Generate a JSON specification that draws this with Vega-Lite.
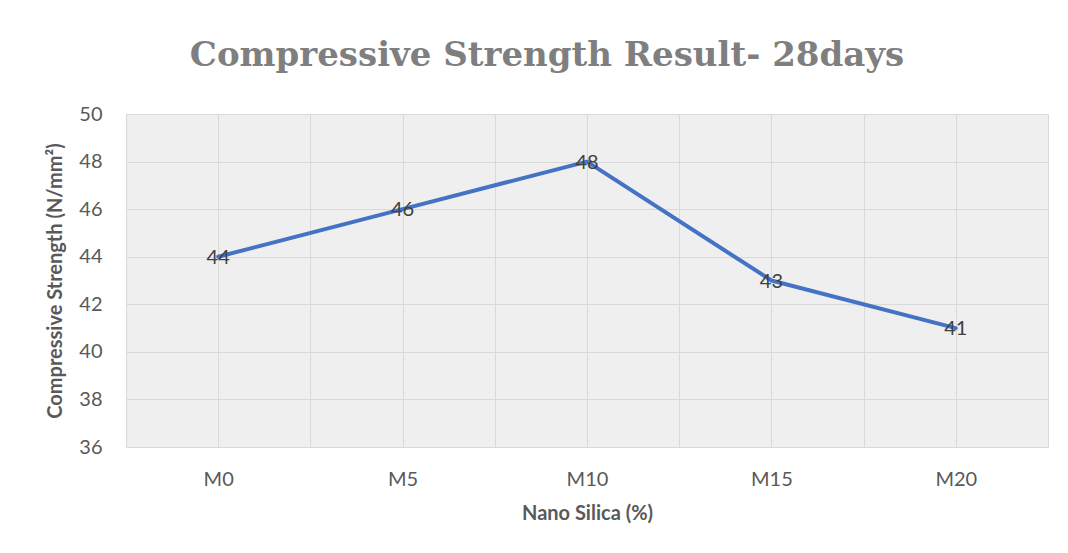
{
  "$schema": "https://vega.github.io/schema/vega-lite/v6.json",
  "width": 922,
  "height": 333,
  "autosize": "none",
  "padding": {"left": 126, "top": 114, "right": 20, "bottom": 106},
  "background": "white",
  "title": {
    "text": "Compressive Strength Result- 28days",
    "font": "DejaVu Serif",
    "fontSize": 34,
    "fontWeight": "bold",
    "color": "#7f7f7f",
    "anchor": "middle",
    "dx": -40,
    "offset": 31
  },
  "config": {
    "view": {"stroke": "#d9d9d9", "fill": "#efefef"},
    "axis": {"gridColor": "#d9d9d9", "gridWidth": 1}
  },
  "data": {
    "values": [
      {"mix": "M0", "strength": 44},
      {"mix": "M5", "strength": 46},
      {"mix": "M10", "strength": 48},
      {"mix": "M15", "strength": 43},
      {"mix": "M20", "strength": 41}
    ]
  },
  "layer": [
    {
      "mark": {"type": "point", "opacity": 0},
      "encoding": {
        "x": {
          "datum": 0,
          "type": "quantitative",
          "scale": {"domain": [0, 10], "nice": false, "zero": false},
          "axis": {"orient": "bottom", "values": [0, 1, 2, 3, 4, 5, 6, 7, 8, 9, 10], "grid": true, "labels": false, "ticks": false, "domain": false, "title": null}
        },
        "y": {
          "datum": 36,
          "type": "quantitative",
          "scale": {"domain": [36, 50], "nice": false, "zero": false}
        }
      }
    },
    {
      "layer": [
        {
          "mark": {"type": "line", "stroke": "#4472C4", "strokeWidth": 4, "strokeCap": "round", "strokeJoin": "round"},
          "encoding": {
            "x": {
              "field": "mix",
              "type": "nominal",
              "sort": null,
              "scale": {"type": "point", "padding": 0.5},
              "axis": {
                "orient": "bottom",
                "title": "Nano Silica (%)",
                "labelAngle": 0,
                "labelFont": "Lato",
                "labelFontSize": 20,
                "labelColor": "#595959",
                "labelPadding": 22,
                "ticks": false,
                "domain": false,
                "grid": false,
                "titleFont": "Lato",
                "titleFontSize": 20,
                "titleFontWeight": "bold",
                "titleColor": "#595959",
                "titlePadding": 14
              }
            },
            "y": {
              "field": "strength",
              "type": "quantitative",
              "scale": {"domain": [36, 50], "nice": false, "zero": false},
              "axis": {
                "title": "Compressive Strength (N/mm²)",
                "values": [36, 38, 40, 42, 44, 46, 48, 50],
                "labelFont": "Lato",
                "labelFontSize": 20,
                "labelColor": "#595959",
                "labelPadding": 24,
                "ticks": false,
                "domain": false,
                "grid": true,
                "titleFont": "Lato",
                "titleFontSize": 20,
                "titleFontWeight": "bold",
                "titleColor": "#595959",
                "titlePadding": 13
              }
            }
          }
        },
        {
          "mark": {"type": "text", "font": "Lato", "fontSize": 20, "color": "#404040", "baseline": "middle", "align": "center", "dy": 1},
          "encoding": {
            "x": {"field": "mix", "type": "nominal", "sort": null},
            "y": {"field": "strength", "type": "quantitative"},
            "text": {"field": "strength", "type": "quantitative"}
          }
        }
      ]
    }
  ],
  "resolve": {"scale": {"x": "independent"}, "axis": {"x": "independent"}}
}
